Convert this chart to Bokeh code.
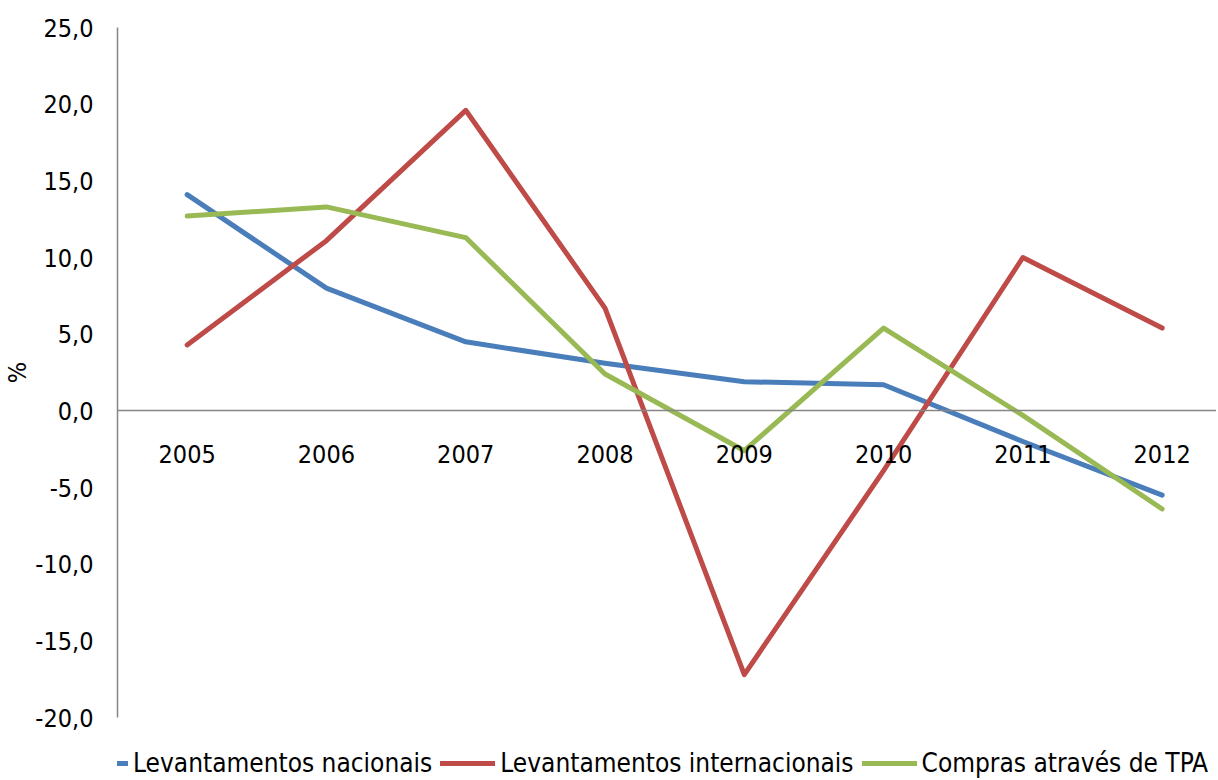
from bokeh.plotting import figure
from bokeh.layouts import column
from bokeh.models import (Range1d, LinearAxis, FixedTicker, CustomJSTickFormatter,
                          Legend, LegendItem)
from bokeh.embed import file_html
from bokeh.resources import INLINE

years = ["2005", "2006", "2007", "2008", "2009", "2010", "2011", "2012"]
nacionais = [14.1, 8.0, 4.5, 3.1, 1.9, 1.7, -2.0, -5.5]
internacionais = [4.3, 11.1, 19.6, 6.7, -17.2, -3.9, 10.0, 5.4]
tpa = [12.7, 13.3, 11.3, 2.4, -2.6, 5.4, -0.3, -6.4]
y_ticks = [-20, -15, -10, -5, 0, 5, 10, 15, 20, 25]
series_names = ["Levantamentos nacionais", "Levantamentos internacionais", "Compras através de TPA"]
colors = ["#4A7EBB", "#BE4B48", "#98B954"]

FONT = "DejaVu Sans Condensed"
FS = "25px"
AXIS_GRAY = "#868686"
LW = 5

x = list(range(len(years)))

# ---- main chart ----
p = figure(frame_width=1099, frame_height=690, output_backend="svg", toolbar_location=None,
           x_range=Range1d(-0.5, 7.39), y_range=Range1d(-20, 25),
           x_axis_type=None, y_axis_type=None,
           min_border_left=100, min_border_right=0, min_border_top=27,
           min_border_bottom=14)
p.outline_line_color = None
p.xgrid.visible = False
p.ygrid.visible = False

for vals, col in zip([nacionais, internacionais, tpa], colors):
    p.line(x, vals, line_color=col, line_width=LW, line_join="round", line_cap="round")

yaxis = LinearAxis(ticker=FixedTicker(ticks=y_ticks),
                   formatter=CustomJSTickFormatter(code="return tick.toFixed(1).replace('.', ',');"))
yaxis.axis_line_color = AXIS_GRAY
yaxis.axis_line_width = 1.5
yaxis.major_tick_line_color = None
yaxis.minor_tick_line_color = None
yaxis.major_tick_out = 0
yaxis.major_tick_in = 0
yaxis.minor_tick_out = 0
yaxis.minor_tick_in = 0
yaxis.major_label_text_font = FONT
yaxis.major_label_text_font_size = FS
yaxis.major_label_text_color = "black"
yaxis.major_label_standoff = 24
yaxis.axis_label = "%"
yaxis.axis_label_text_font = FONT
yaxis.axis_label_text_font_size = FS
yaxis.axis_label_text_font_style = "normal"
yaxis.axis_label_text_color = "black"
yaxis.axis_label_standoff = 0
p.add_layout(yaxis, "left")

xaxis = LinearAxis(ticker=FixedTicker(ticks=x), fixed_location=0,
                   major_label_overrides={i: y for i, y in enumerate(years)})
xaxis.axis_line_color = AXIS_GRAY
xaxis.axis_line_width = 1.5
xaxis.major_tick_line_color = None
xaxis.minor_tick_line_color = None
xaxis.major_tick_out = 0
xaxis.major_tick_in = 0
xaxis.minor_tick_out = 0
xaxis.minor_tick_in = 0
xaxis.major_label_text_font = FONT
xaxis.major_label_text_font_size = FS
xaxis.major_label_text_color = "black"
xaxis.major_label_standoff = 34
p.add_layout(xaxis, "below")

# ---- legend strip (separate small figure, series out of view) ----
p2 = figure(width=1216, height=49, output_backend="svg", toolbar_location=None,
            x_range=Range1d(-0.5, 7.39), y_range=Range1d(100, 101),
            x_axis_type=None, y_axis_type=None,
            min_border_left=0, min_border_right=0, min_border_top=0, min_border_bottom=0)
p2.outline_line_color = None
p2.xgrid.visible = False
p2.ygrid.visible = False

items = []
for vals, col, name in zip([nacionais, internacionais, tpa], colors, series_names):
    r = p2.line(x, vals, line_color=col, line_width=LW, line_cap="round")
    items.append(LegendItem(label=name, renderers=[r]))

legend = Legend(items=items, orientation="horizontal", location=(-44, 2),
                glyph_width=55, glyph_height=26, label_standoff=5, spacing=8,
                padding=0, margin=0, border_line_alpha=0, background_fill_alpha=0,
                label_text_font=FONT, label_text_font_size="26px",
                label_text_color="black")
p2.add_layout(legend, "center")

layout = column(p, p2, spacing=0)
open("out.html", "w").write(file_html(layout, INLINE))
